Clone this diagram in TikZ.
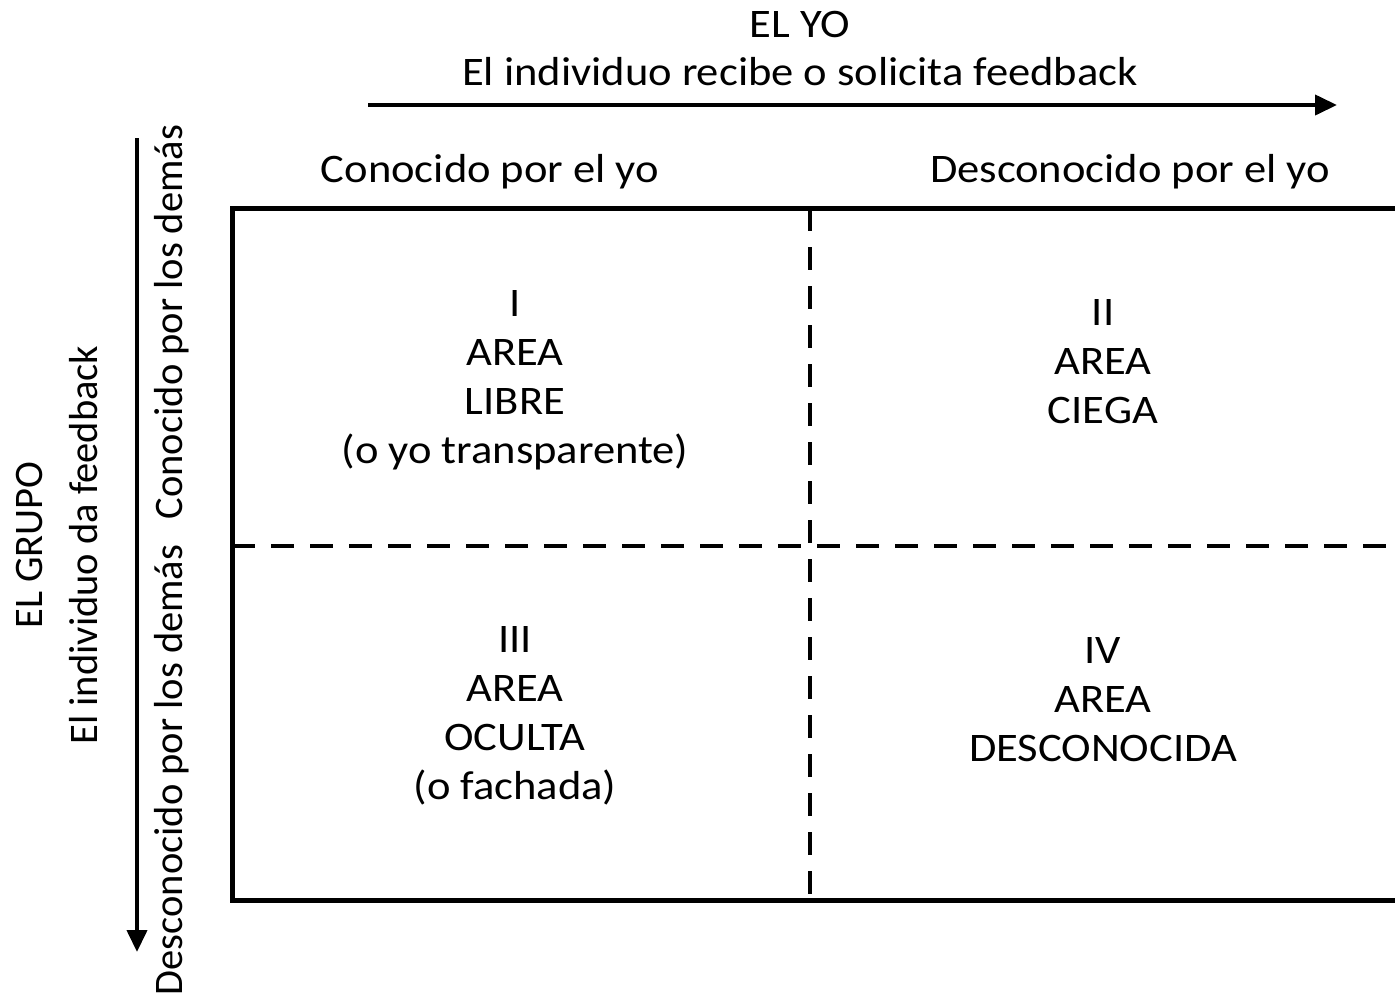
\documentclass[tikz,border=0pt]{standalone}
\usepackage{fontspec}
\setmainfont[FakeStretch=1.1]{Carlito}
\newfontfamily\upfont{Carlito}
\usetikzlibrary{arrows.meta}
\begin{document}
\begin{tikzpicture}[x=1pt,y=-1pt,
  lbl/.style={font=\fontsize{40.5}{48}\selectfont, inner sep=0pt, align=center},
  vlbl/.style={font=\upfont\fontsize{40.5}{55}\selectfont, inner sep=0pt, align=center, rotate=90},
  quad/.style={font=\fontsize{40.5}{49}\selectfont, inner sep=0pt, align=center},
  frame/.style={line width=5pt},
  divider/.style={line width=4pt, dash pattern=on 23pt off 16pt},
  axis/.style={line width=4pt, -{Triangle[length=22pt,width=20pt]}}]
\clip (0,0) rectangle (1395,997);
\fill[white] (0,0) rectangle (1395,997);
% header
\node[lbl] (yo) at (800,49) {EL YO\\El individuo recibe o solicita feedback};
\coordinate (hs) at (368,105);
\coordinate (he) at (1337,105);
\draw[axis] (hs) -- (he);
% column headings
\node[lbl] (c1) at (490,172) {Conocido por el yo};
\node[lbl] (c2) at (1130,172) {Desconocido por el yo};
% left side
\coordinate (vs) at (137,138);
\coordinate (ve) at (137,952);
\draw[axis] (vs) -- (ve);
\node[vlbl] (grp) at (57,545) {EL GRUPO\\El individuo da feedback};
\node[vlbl] (r1) at (172,322) {Conocido por los demás};
\node[vlbl] (r2) at (172,770) {Desconocido por los demás};
% frame
\coordinate (tr) at (1410,208);
\coordinate (tl) at (232,208);
\coordinate (bl) at (232,900);
\coordinate (br) at (1410,900);
\draw[frame] (tr) -- (tl) -- (bl) -- (br);
\coordinate (vt) at (810,208);
\coordinate (vb) at (810,900);
\coordinate (hl) at (232,546);
\coordinate (hr) at (1410,546);
\draw[divider] (vt) -- (vb);
\draw[divider] (hl) -- (hr);
% quadrants
\node[quad] (q1) at (515,380) {I\\AREA\\LIBRE\\(o yo transparente)};
\node[quad] (q2) at (1103,362) {II\\AREA\\CIEGA};
\node[quad] (q3) at (515,716) {III\\AREA\\OCULTA\\(o fachada)};
\node[quad] (q4) at (1103,700) {IV\\AREA\\DESCONOCIDA};
\end{tikzpicture}
\end{document}
